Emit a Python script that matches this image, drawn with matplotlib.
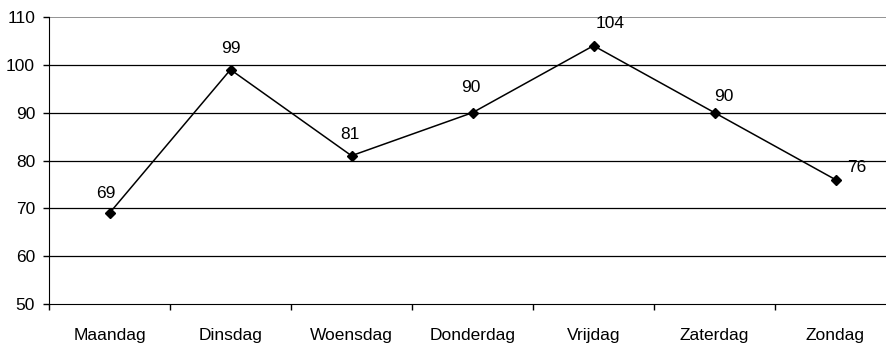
import matplotlib.pyplot as plt
import numpy as np

days = ["Maandag", "Dinsdag", "Woensdag", "Donderdag", "Vrijdag", "Zaterdag", "Zondag"]
values = [69, 99, 81, 90, 104, 90, 76]

# label offsets in points (dx, dy), as placed in the original
label_dx = [-3, 0, -1, -1, 12, 7, 15]
label_dy = [14, 15, 15, 18, 16, 12, 9]

plt.rcParams['font.family'] = ['Liberation Sans', 'DejaVu Sans']
plt.rcParams['font.size'] = 12.5

fig = plt.figure(figsize=(8.86, 3.52), dpi=100)
ax = fig.add_axes([49 / 886, 48 / 352, 847 / 886, 287 / 352])

x = np.arange(len(days))
ax.plot(x, values, color='black', lw=1.1, marker='D', markersize=5.5, zorder=3, clip_on=False)

for i, v in enumerate(values):
    ax.annotate(str(v), (x[i], v), xytext=(label_dx[i], label_dy[i]),
                textcoords='offset points', ha='center', va='center')

ax.set_xlim(-0.5, len(days) - 0.5)
ax.set_ylim(50, 110)
ax.set_yticks(range(50, 111, 10))
for yv in range(60, 110, 10):
    ax.axhline(yv, color='black', lw=0.9, zorder=1)
ax.axhline(110, color='#808080', lw=1.2, zorder=1)

ax.set_xticks(np.arange(-0.5, len(days), 1))
ax.set_xticklabels([])
ax.set_xticks(x, minor=True)
ax.set_xticklabels(days, minor=True)
ax.tick_params(axis='x', which='major', length=4, width=1, direction='out')
ax.tick_params(axis='x', which='minor', length=0, pad=17)
ax.tick_params(axis='y', length=4, width=1, pad=6)

for s in ['top', 'right']:
    ax.spines[s].set_visible(False)
ax.spines['left'].set_color('black')
ax.spines['bottom'].set_color('black')

fig.savefig("out.png", dpi=100)
